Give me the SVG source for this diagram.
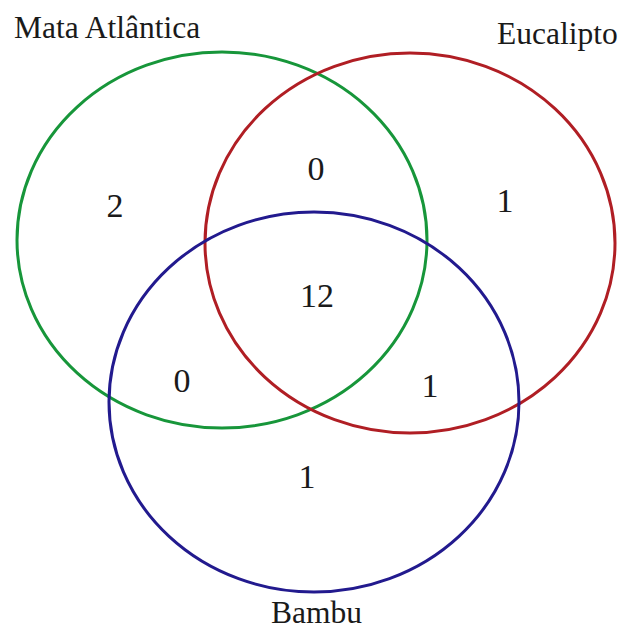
<svg xmlns="http://www.w3.org/2000/svg" width="620" height="632" viewBox="0 0 620 632">
<style>
.c{fill:none;stroke-width:3}
text{font-family:"Liberation Serif","Times New Roman",serif;fill:#1a1a1a}
.lbl{font-size:31.5px}
.num{font-size:34px;text-anchor:middle}
</style>
<rect width="620" height="632" fill="#fff"/>
<g id="sets">
<g id="mata"><ellipse class="c" cx="222" cy="240" rx="205" ry="188" stroke="#17963a"/></g>
<g id="eucalipto"><ellipse class="c" cx="410" cy="243" rx="205" ry="190" stroke="#b01e24"/></g>
<g id="bambu"><ellipse class="c" cx="314" cy="402" rx="205" ry="190" stroke="#221a8e"/></g>
</g>
<g id="labels">
<text class="lbl" x="14" y="38">Mata Atlântica</text>
<text class="lbl" x="497" y="44">Eucalipto</text>
<text class="lbl" x="271" y="623">Bambu</text>
</g>
<g id="counts">
<text class="num" x="115" y="217">2</text>
<text class="num" x="316" y="180">0</text>
<text class="num" x="505" y="212">1</text>
<text class="num" x="317" y="307">12</text>
<text class="num" x="182" y="392">0</text>
<text class="num" x="430" y="397">1</text>
<text class="num" x="307" y="488">1</text>
</g>
</svg>
